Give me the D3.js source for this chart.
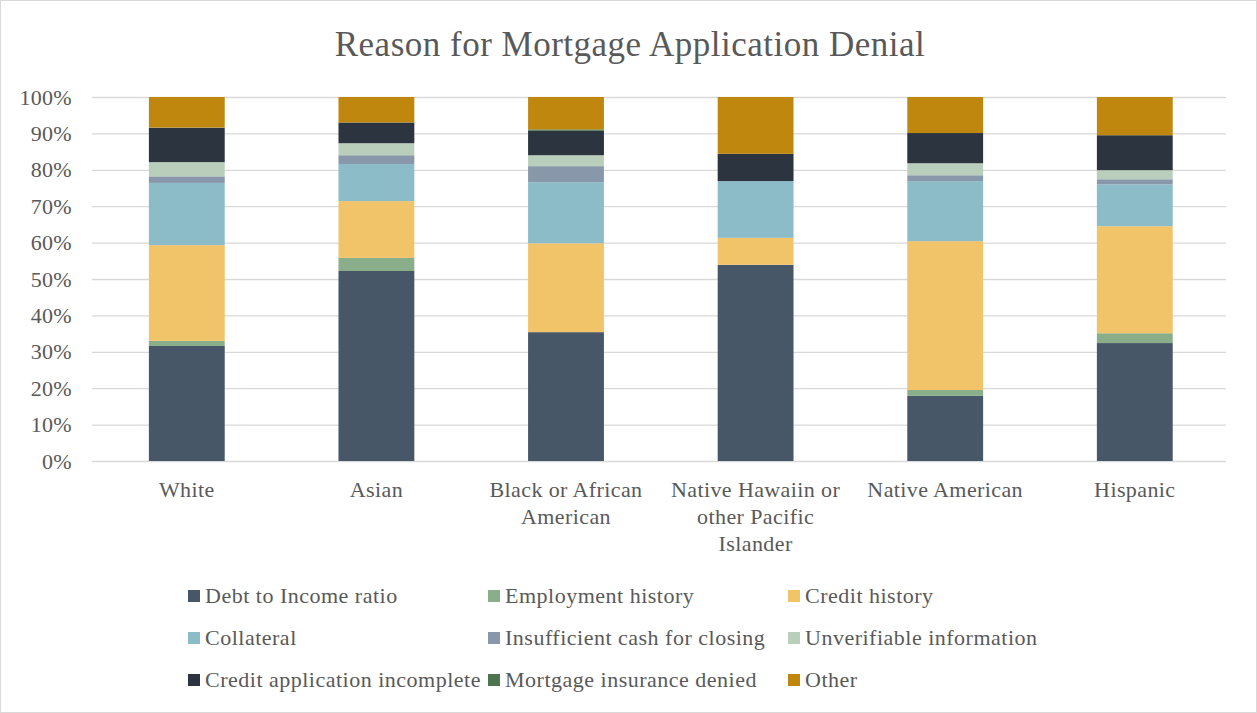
<!DOCTYPE html>
<html>
<head>
<meta charset="utf-8">
<script src="https://cdn.jsdelivr.net/npm/d3@7"></script>
<style>
  html, body { margin: 0; padding: 0; background: #fff; }
  svg { display: block; }
  text { font-family: "Liberation Serif", "DejaVu Serif", serif; fill: #595959; }
</style>
</head>
<body>
<svg id="chart" width="1257" height="713"></svg>
<script>
// Groups along the x axis (line breaks give the wrapped labels)
const categories = [
  "White",
  "Asian",
  "Black or African\nAmerican",
  "Native Hawaiin or\nother Pacific\nIslander",
  "Native American",
  "Hispanic"
];

// Share of denials by reason, in percent, one value per group
const debtToIncome       = [31.6, 52.2, 35.4, 53.9, 17.9, 32.4];
const employmentHistory  = [1.4, 3.6, 0.0, 0.0, 1.6, 2.7];
const creditHistory      = [26.3, 15.6, 24.4, 7.4, 40.9, 29.4];
const collateral         = [17.1, 10.2, 16.8, 15.6, 16.5, 11.5];
const insufficientCash   = [1.8, 2.4, 4.4, 0.0, 1.6, 1.4];
const unverifiableInfo   = [3.9, 3.3, 3.0, 0.0, 3.3, 2.5];
const appIncomplete      = [9.4, 5.7, 6.7, 7.5, 8.3, 9.6];
const insuranceDenied    = [0.1, 0.0, 0.4, 0.0, 0.0, 0.0];
const other              = [8.4, 7.0, 8.9, 15.6, 9.9, 10.5];

const seriesNames = [
  "Debt to Income ratio", "Employment history", "Credit history",
  "Collateral", "Insufficient cash for closing", "Unverifiable information",
  "Credit application incomplete", "Mortgage insurance denied", "Other"
];
const seriesValues = [
  debtToIncome, employmentHistory, creditHistory, collateral, insufficientCash,
  unverifiableInfo, appIncomplete, insuranceDenied, other
];
const seriesColors = [
  "#475768", "#8aae8a", "#f2c46a", "#8bbcc8", "#8898aa",
  "#b9cfbb", "#2c3440", "#4d7650", "#c0870f"
];

const yTicks = [0, 10, 20, 30, 40, 50, 60, 70, 80, 90, 100];

// Build rows for d3.stack
const rows = categories.map((c, i) => {
  const r = { category: c };
  seriesNames.forEach((s, k) => { r[s] = seriesValues[k][i]; });
  return r;
});

const svg = d3.select("#chart");
const W = 1257, H = 713;

// Chart frame
svg.append("rect")
  .attr("x", 0.5).attr("y", 0.5)
  .attr("width", W - 1).attr("height", H - 1)
  .attr("fill", "#fff").attr("stroke", "#d9d9d9");

const plot = { left: 92, right: 1226, top: 97, bottom: 461 };

const x = d3.scaleBand()
  .domain(categories)
  .range([plot.left, 1229.6])
  .paddingInner(0.6).paddingOuter(0.3);

const y = d3.scaleLinear().domain([0, 100]).range([plot.bottom, plot.top]);

// Title
svg.append("text")
  .attr("x", 630).attr("y", 56)
  .attr("text-anchor", "middle")
  .style("font-size", "35px")
  .style("letter-spacing", "0.5px")
  .text("Reason for Mortgage Application Denial");

// Gridlines
svg.append("g")
  .selectAll("line")
  .data(yTicks)
  .join("line")
  .attr("x1", plot.left).attr("x2", plot.right)
  .attr("y1", d => y(d) + 0.5).attr("y2", d => y(d) + 0.5)
  .attr("stroke", "#d9d9d9").attr("stroke-width", 1.3);

// Y axis labels
const yAxis = d3.axisLeft(y).tickValues(yTicks).tickFormat(d => d + "%").tickSize(0).tickPadding(20);
const gy = svg.append("g").attr("transform", `translate(${plot.left},0)`).call(yAxis);
gy.select(".domain").remove();
gy.selectAll("text")
  .style("font-size", "22px")
  .style("letter-spacing", "0.3px")
  .style("font-family", "'Liberation Serif', serif")
  .attr("fill", "#595959");

// Stacked bars
const stack = d3.stack().keys(seriesNames);
const layers = stack(rows);

svg.append("g")
  .selectAll("g")
  .data(layers)
  .join("g")
  .attr("fill", (d, i) => seriesColors[i])
  .selectAll("rect")
  .data(d => d)
  .join("rect")
  .attr("x", d => x(d.data.category))
  .attr("width", x.bandwidth())
  .attr("y", d => y(d[1]))
  .attr("height", d => Math.max(0, y(d[0]) - y(d[1])));

// X axis labels
const xLabels = svg.append("g")
  .selectAll("text")
  .data(categories)
  .join("text")
  .attr("x", d => x(d) + x.bandwidth() / 2)
  .attr("y", 497)
  .attr("text-anchor", "middle")
  .style("font-size", "22px")
  .style("letter-spacing", "0.4px");
xLabels.each(function(d) {
  const t = d3.select(this);
  d.split("\n").forEach((line, i) => {
    t.append("tspan")
      .attr("x", x(d) + x.bandwidth() / 2)
      .attr("dy", i === 0 ? 0 : 27)
      .text(line);
  });
});

// Legend: three columns, three rows
const legend = svg.append("g");
const colX = [188, 488, 788];
const rowY = [596, 638, 680];
seriesNames.forEach((name, i) => {
  const cx = colX[i % 3], cy = rowY[Math.floor(i / 3)];
  const g = legend.append("g").attr("transform", `translate(${cx},${cy})`);
  g.append("rect")
    .attr("x", 0).attr("y", -6)
    .attr("width", 12).attr("height", 12)
    .attr("fill", seriesColors[i]);
  g.append("text")
    .attr("x", 17).attr("y", 7)
    .style("font-size", "22px")
    .style("letter-spacing", "0.5px")
    .text(name);
});
</script>
</body>
</html>
